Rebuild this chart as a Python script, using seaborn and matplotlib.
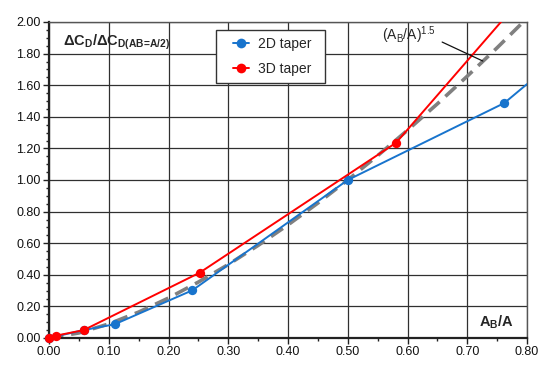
import matplotlib
matplotlib.use("Agg")
import matplotlib.pyplot as plt
import matplotlib.transforms as mtransforms
import seaborn as sns
import numpy as np
import pandas as pd
from matplotlib.ticker import MultipleLocator, FormatStrFormatter
from matplotlib.lines import Line2D
from matplotlib.legend_handler import HandlerLine2D

# data
x_2d = [0.0, 0.058, 0.110, 0.240, 0.500, 0.762, 0.800]
y_2d = [0.0, 0.050, 0.087, 0.302, 1.000, 1.487, 1.607]
n_2d_markers = 6
x_3d = [0.0, 0.012, 0.058, 0.252, 0.581, 0.800]
y_3d = [0.0, 0.015, 0.050, 0.413, 1.236, 2.190]
n_3d_markers = 5
x_ref = [0.0, 0.05, 0.10, 0.15, 0.20, 0.25, 0.30, 0.35, 0.40, 0.45, 0.50,
         0.55, 0.60, 0.65, 0.70, 0.75, 0.80]
y_ref = [0.0, 0.032, 0.089, 0.164, 0.253, 0.354, 0.465, 0.586, 0.716, 0.854,
         1.000, 1.154, 1.315, 1.482, 1.657, 1.837, 2.024]
x_ticks = [0.0, 0.1, 0.2, 0.3, 0.4, 0.5, 0.6, 0.7, 0.8]
y_ticks = [0.0, 0.2, 0.4, 0.6, 0.8, 1.0, 1.2, 1.4, 1.6, 1.8, 2.0]
series_labels = ['2D taper', '3D taper']

BLUE = '#1874CD'
RED = '#FF0000'

sns.set_style("white")
plt.rcParams['font.family'] = ['Liberation Sans', 'DejaVu Sans']
plt.rcParams['mathtext.fontset'] = 'custom'
plt.rcParams['mathtext.rm'] = 'Liberation Sans'
plt.rcParams['mathtext.it'] = 'Liberation Sans'
plt.rcParams['mathtext.bf'] = 'Liberation Sans:bold'

fig = plt.figure(figsize=(5.5, 3.69), dpi=100)
ax = fig.add_axes([49/550, 31/369, 478/550, 316/369])

ax.grid(True, which='major', color='#303030', linewidth=0.9)
ax.set_axisbelow(True)

sns.lineplot(x=x_ref, y=y_ref, ax=ax, color='#808080', linewidth=2.6,
             linestyle=(0, (4, 2.2)), sort=False, zorder=2)
sns.lineplot(x=x_2d, y=y_2d, ax=ax, color=BLUE, linewidth=1.4, sort=False, zorder=3)
sns.lineplot(x=x_3d, y=y_3d, ax=ax, color=RED, linewidth=1.4, sort=False, zorder=5)
sns.scatterplot(x=x_2d[:n_2d_markers], y=y_2d[:n_2d_markers], ax=ax, color=BLUE,
                s=45, linewidth=0, zorder=4, clip_on=False)
sns.scatterplot(x=x_3d[:n_3d_markers], y=y_3d[:n_3d_markers], ax=ax, color=RED,
                s=45, linewidth=0, zorder=6, clip_on=False)

ax.set_xlim(0, 0.8)
ax.set_ylim(0, 2.0)
ax.set_xticks(x_ticks)
ax.set_yticks(y_ticks)
ax.xaxis.set_major_formatter(FormatStrFormatter('%.2f'))
ax.yaxis.set_major_formatter(FormatStrFormatter('%.2f'))
ax.xaxis.set_minor_locator(MultipleLocator(0.05))
ax.yaxis.set_minor_locator(MultipleLocator(0.05))
ax.tick_params(which='major', direction='out', length=4, width=1, color='#222222',
               labelsize=9, pad=2, bottom=True, left=True, labelcolor='#111111')
ax.tick_params(which='minor', direction='out', length=2.5, width=1, color='#222222',
               bottom=True, left=True)
ax.set_xlabel('')
ax.set_ylabel('')

for s in ['left', 'bottom']:
    ax.spines[s].set_color('#222222')
    ax.spines[s].set_linewidth(1.6)
for s in ['right', 'top']:
    ax.spines[s].set_color('#555555')
    ax.spines[s].set_linewidth(1.0)

ax.text(0.023, 1.873, r'$\mathbf{\Delta C_D/\Delta C_{D(AB\!=\!A/2)}}$', fontsize=10.5,
        ha='left', va='center')
ax.text(0.749, 0.10, r'$\mathbf{A_B/A}$', fontsize=10.5, ha='center', va='center')
ax.text(0.557, 1.918, r'$\mathrm{(A_B/A)^{1.5}}$', fontsize=10, ha='left', va='center')
ax.plot([0.658, 0.726], [1.873, 1.753], color='#111111', linewidth=0.9, zorder=7)


class ShiftedHandler(HandlerLine2D):
    def __init__(self, shift, **kw):
        super().__init__(**kw)
        self._shift = shift

    def create_artists(self, legend, orig_handle, xdescent, ydescent, width,
                       height, fontsize, trans):
        arts = super().create_artists(legend, orig_handle, xdescent, ydescent,
                                      width, height, fontsize, trans)
        t = mtransforms.Affine2D().translate(self._shift, 0) + trans
        for a in arts:
            a.set_transform(t)
        return arts


handles = [Line2D([], [], color=BLUE, linewidth=1.4, marker='o', markersize=7,
                  markeredgewidth=0),
           Line2D([], [], color=RED, linewidth=1.4, marker='o', markersize=7,
                  markeredgewidth=0)]
x0 = (216 - 49) / 478
w = (325 - 216) / 478
y_top = (338 - 30) / 316
leg = ax.legend(handles, series_labels, loc='upper left',
                bbox_to_anchor=(x0, y_top - 0.3, w, 0.3), mode='expand',
                frameon=True, fancybox=False, shadow=False, fontsize=10,
                handlelength=1.15, borderpad=0.5, labelspacing=0.8,
                handletextpad=1.4, borderaxespad=0,
                handler_map={Line2D: ShiftedHandler(7.2)})
leg.get_frame().set_edgecolor('#333333')
leg.get_frame().set_linewidth(1.0)
leg.get_frame().set_alpha(1)

fig.savefig('out.png', dpi=100)
